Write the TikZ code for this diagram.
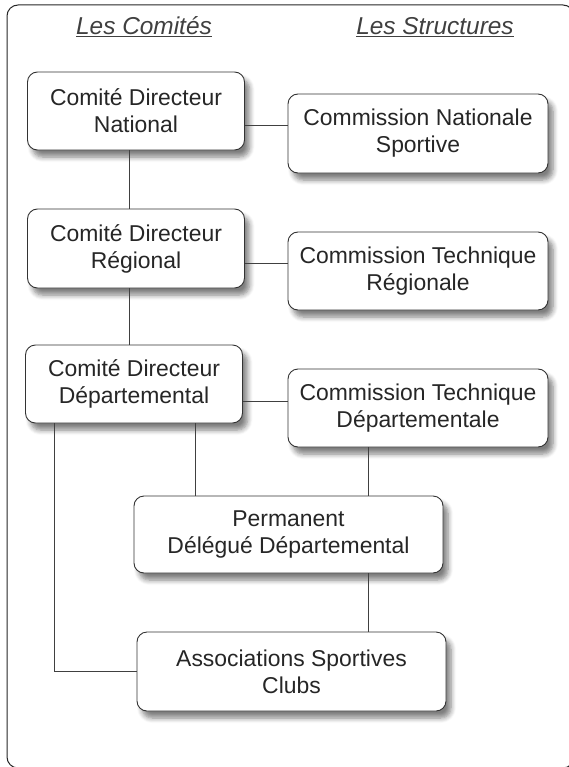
\documentclass[tikz,border=0pt]{standalone}
\usepackage{fontspec}
\setmainfont{Liberation Sans}
\usetikzlibrary{shadows.blur}

\begin{document}
\begin{tikzpicture}[x=1bp, y=-1bp,
                    box/.style={rectangle, rounded corners=10bp, draw=black!80, fill=white, line width=0.9bp,
                                align=center, inner sep=0pt, text=black!85, font=\fontsize{23}{27}\selectfont,
                                blur shadow={shadow xshift=5bp, shadow yshift=-7bp, shadow blur radius=5bp,
                                             shadow blur steps=6, shadow opacity=50}},
                    heading/.style={text=black!75, font=\fontsize{24.5}{27}\selectfont\itshape},
                    link/.style={draw=black!75, line width=0.8bp}]

                        \useasboundingbox (0,0) rectangle (569,767);
                        \clip (0,0) rectangle (569,767);

                        % Frame
                        \draw[black!85, line width=1bp, rounded corners=11bp] (7,5) rectangle (574,768);

                        % Headings
                        \node[heading] (hcom) at (144,27) {\underline{Les Comités}}; % Left column
                        \node[heading] (hstr) at (435,27) {\underline{Les Structures}}; % Right column

                        % Comités
                        \node[box, minimum width=217bp, minimum height=78bp] (CDN) at (136,111) {Comité Directeur\\National}; % National
                        \node[box, minimum width=217bp, minimum height=79bp] (CDR) at (136,248.5) {Comité Directeur\\Régional}; % Regional
                        \node[box, minimum width=217bp, minimum height=78bp] (CDD) at (134,384) {Comité Directeur\\Départemental}; % Departmental

                        % Structures
                        \node[box, minimum width=260bp, minimum height=79bp] (CNS) at (418,133.5) {Commission Nationale\\Sportive};
                        \node[box, minimum width=260bp, minimum height=78bp] (CTR) at (418,271) {Commission Technique\\Régionale};
                        \node[box, minimum width=260bp, minimum height=78bp] (CTD) at (418,408) {Commission Technique\\Départementale};
                        \node[box, minimum width=309bp, minimum height=77bp] (PDD) at (288.5,534.5) {Permanent\\Délégué Départemental};
                        \node[box, minimum width=309bp, minimum height=79bp] (ASC) at (291.5,671.5) {Associations Sportives\\Clubs};

                        % Define links
                        \path[link] (CDN.east |- 0,125) -- (CNS.west |- 0,125);
                        \path[link] (CDR.east |- 0,263) -- (CTR.west |- 0,263);
                        \path[link] (CDD.east |- 0,401) -- (CTD.west |- 0,401);
                        \path[link] (CDN.south -| 129,0) -- (CDR.north -| 129,0);
                        \path[link] (CDR.south -| 129,0) -- (CDD.north -| 129,0);
                        \path[link] (CDD.south -| 195,0) -- (PDD.north -| 195,0);
                        \path[link] (CTD.south -| 368,0) -- (PDD.north -| 368,0);
                        \path[link] (PDD.south -| 368,0) -- (ASC.north -| 368,0);
                        \path[link] (CDD.south -| 54,0) |- (ASC.west);
                    \end{tikzpicture}
\end{document}
